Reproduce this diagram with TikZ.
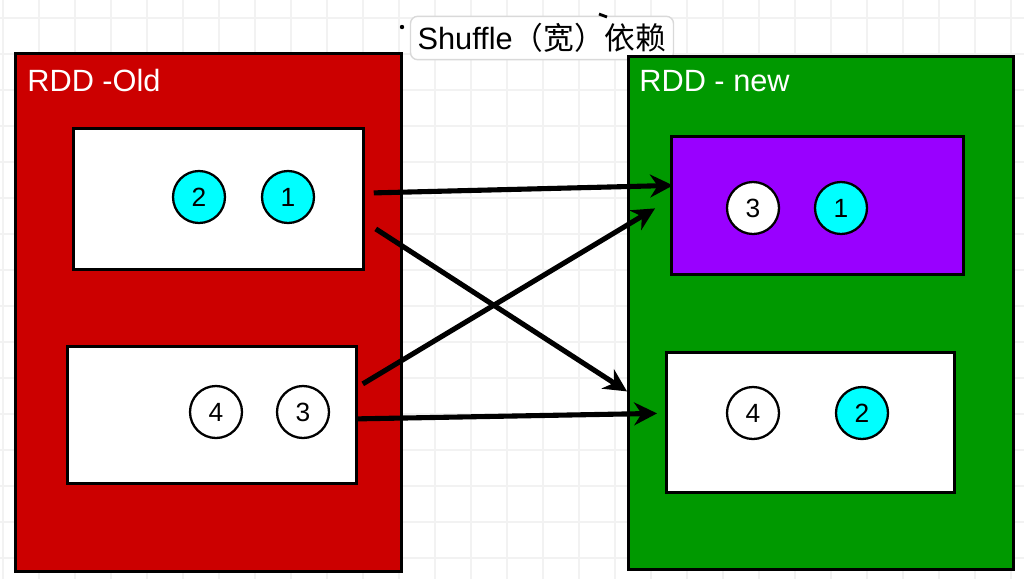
\documentclass[tikz,border=0pt]{standalone}
\usepackage{fontspec}
\setmainfont{Liberation Sans}
\newfontfamily\cjkfont{Noto Sans CJK SC}
\usetikzlibrary{arrows.meta}
\definecolor{rddred}{RGB}{204,0,0}
\definecolor{rddgreen}{RGB}{0,153,0}
\definecolor{rddpurple}{RGB}{153,0,255}
\definecolor{hotcyan}{RGB}{0,255,255}

\begin{document}
\begin{tikzpicture}[x=0.02cm,y=-0.02cm,
    rddbox/.style={draw=black,line width=1.7pt,anchor=north west,inner sep=0pt},
    partbox/.style={draw=black,fill=white,line width=1.6pt,anchor=north west,inner sep=0pt},
    rec/.style={circle,draw=black,fill=white,line width=1.3pt,minimum size=1.04cm,inner sep=0pt,
      font=\fontsize{15}{17}\selectfont},
    hot/.style={rec,fill=hotcyan},
    dep/.style={line width=2.9pt,-{Stealth[length=13pt,width=13pt]}},
    gridline/.style={black!5,line width=0.7pt}]
  % page and faint grid
  \fill[white] (0,0) rectangle (1024,579);
  \useasboundingbox (0,0) rectangle (1024,579);
  \foreach \gx in {3,39,...,1023}
    \draw[gridline] (\gx,0) -- (\gx,579);
  \foreach \gy in {18,54,...,579}
    \draw[gridline] (0,\gy) -- (1024,\gy);
  % title
  \node[draw=gray!30,fill=white,rounded corners=4pt,line width=0.8pt,inner xsep=4pt,inner ysep=4pt,
    font=\fontsize{17.5}{20}\selectfont] (title) at (542,38) {Shuffle{\cjkfont （宽）依赖}};
  \fill (402,27) circle (2.2);
  \draw[line width=1.6pt] (599,14) -- (607,17);
  % old rdd and its partitions
  \node[rddbox,fill=rddred,minimum width=7.72cm,minimum height=10.36cm] (old) at (14,52) {};
  \node[anchor=west,inner sep=0pt,white,font=\fontsize{17.5}{20}\selectfont] (oldname) at (27,81) {RDD -Old};
  \node[partbox,minimum width=5.8cm,minimum height=2.82cm] (oldA) at (72,127) {};
  \node[partbox,minimum width=5.78cm,minimum height=2.74cm] (oldB) at (66,345) {};
  \node[hot] (oldA2) at (199,197) {2};
  \node[hot] (oldA1) at (288,197) {1};
  \node[rec] (oldB4) at (216,412) {4};
  \node[rec] (oldB3) at (303,412) {3};
  % new rdd and its partitions
  \node[rddbox,fill=rddgreen,minimum width=7.7cm,minimum height=10.26cm] (new) at (627,55) {};
  \node[anchor=west,inner sep=0pt,white,font=\fontsize{17.5}{20}\selectfont] (newname) at (639,81) {RDD - new};
  \node[partbox,fill=rddpurple,minimum width=5.84cm,minimum height=2.76cm] (newA) at (670,135) {};
  \node[partbox,minimum width=5.76cm,minimum height=2.8cm] (newB) at (665,351) {};
  \node[rec] (newA3) at (753,208) {3};
  \node[hot] (newA1) at (841,208) {1};
  \node[rec] (newB4) at (753,413) {4};
  \node[hot] (newB2) at (862,413) {2};
  % shuffle dependencies
  \draw[dep] ([shift={(9,-6)}]oldA.east) -- ([shift={(3,-20)}]newA.west);
  \draw[dep] ([shift={(11,30)}]oldA.east) -- ([shift={(-38,-31)}]newB.west);
  \draw[dep] ([shift={(5,-31)}]oldB.east) -- ([shift={(-15,3)}]newA.west);
  \draw[dep] ([shift={(-2,4)}]oldB.east) -- ([shift={(-8,-9)}]newB.west);
\end{tikzpicture}
\end{document}
